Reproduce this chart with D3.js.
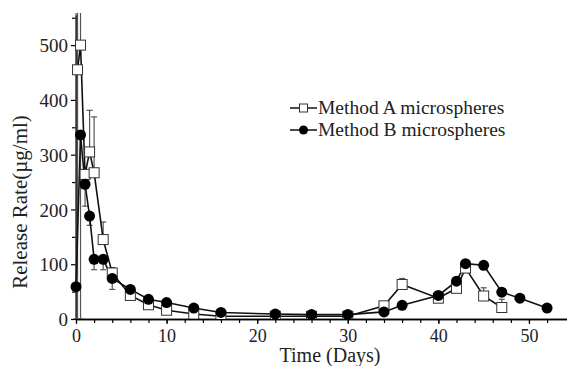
<!DOCTYPE html>
<html>
<head>
<meta charset="utf-8">
<script src="https://cdn.jsdelivr.net/npm/d3@7"></script>
<style>
	body { margin: 0; background: #fff; }
	svg, svg text { font-family: "Liberation Serif", "Times New Roman", Times, "DejaVu Serif", serif; }
</style>
</head>
<body>
<svg id="chart" width="567" height="366"></svg>
<script>
// values
const daysA = [0.17, 0.5, 1, 1.5, 2, 3, 4, 6, 8, 10, 13, 16, 22, 26, 30, 34, 36, 40, 42, 43, 45, 47];
const methodA = [455, 500, 264, 305, 267, 145, 84, 43, 26, 16, 9, 5, 5, 5, 5, 24, 63, 38, 56, 93, 42, 21];
const errAUp = [600, 600, 0, 76, 102, 32, 10, 0, 0, 0, 0, 0, 0, 0, 0, 0, 11, 0, 0, 0, 15, 15];
const errADown = [460, 0, 0, 0, 0, 0, 0, 0, 0, 0, 0, 0, 0, 0, 0, 0, 0, 7, 0, 0, 0, 0];

const daysB = [0, 0.5, 1, 1.5, 2, 3, 4, 6, 8, 10, 13, 16, 22, 26, 30, 34, 36, 40, 42, 43, 45, 47, 49, 52];
const methodB = [59, 336, 246, 188, 109, 109, 74, 54, 36, 30, 20, 12, 9, 8, 8, 13, 25, 43, 69, 101, 98, 49, 38, 20];
const errBUp = [600, 0, 0, 0, 0, 0, 0, 0, 0, 0, 0, 0, 0, 0, 0, 0, 0, 0, 0, 0, 0, 0, 0, 0];
const errBDown = [59, 336, 40, 17, 19, 19, 20, 0, 0, 0, 0, 0, 0, 0, 0, 0, 0, 0, 0, 0, 0, 0, 0, 0];

const xTicks = [0, 10, 20, 30, 40, 50];
const yTicks = [0, 100, 200, 300, 400, 500];
const legendNames = ["Method A microspheres", "Method B microspheres"];

const serif = "'Liberation Serif', 'Times New Roman', Times, 'DejaVu Serif', serif";
const svg = d3.select("#chart");

const xScale = d3.scaleLinear().domain([0, 54.2]).range([76, 567]);
const yScale = d3.scaleLinear().domain([0, 555]).range([319, 15]);

svg.append("defs").append("clipPath")
	.attr("id", "plotClip")
	.append("rect")
	.attr("x", 60).attr("y", 13)
	.attr("width", 507).attr("height", 306);

// axes
let xAxis = d3.axisBottom(xScale).tickValues(xTicks).tickSize(5).tickSizeOuter(0).tickPadding(5);
let xMinor = d3.axisBottom(xScale).tickValues(d3.range(0, 54, 2)).tickSize(4).tickSizeOuter(0).tickFormat("");
let yAxis = d3.axisLeft(yScale).tickValues(yTicks).tickSize(5).tickSizeOuter(0).tickPadding(3);
let yMinor = d3.axisLeft(yScale).tickValues(d3.range(50, 551, 100)).tickSize(4).tickSizeOuter(0).tickFormat("");

function styleAxis(g) {
	g.attr("font-family", serif);
	g.selectAll("path").attr("stroke", "#000").attr("stroke-width", 1.5);
	g.selectAll("line").attr("stroke", "#000").attr("stroke-width", 1.2);
	g.selectAll("text").attr("fill", "#222").attr("font-family", serif);
}

svg.append("g").attr("transform", "translate(0,319)").call(xMinor).call(styleAxis);
svg.append("g").attr("transform", "translate(0,319)").call(xAxis).call(styleAxis)
	.selectAll("text").attr("font-size", "18px");
svg.append("g").attr("transform", "translate(76,0)").call(yMinor).call(styleAxis);
svg.append("g").attr("transform", "translate(76,0)").call(yAxis).call(styleAxis)
	.selectAll("text").attr("font-size", "19px").attr("dy", "0.35em");

// axis titles
svg.append("text")
	.attr("x", 330).attr("y", 362)
	.attr("text-anchor", "middle")
	.attr("font-family", serif)
	.attr("font-size", "20px").attr("fill", "#222")
	.text("Time (Days)");

svg.append("text")
	.attr("transform", "translate(27,202) rotate(-90)")
	.attr("text-anchor", "middle")
	.attr("font-family", serif)
	.attr("font-size", "21px").attr("fill", "#222")
	.text("Release Rate(\u00b5g/ml)");

const plot = svg.append("g").attr("clip-path", "url(#plotClip)");

// error bars
function addErrors(days, vals, up, down, colour) {
	days.forEach((d, i) => {
		let x = xScale(d);
		if (up[i] > 0) {
			let yTop = yScale(vals[i] + up[i]);
			plot.append("line").attr("x1", x).attr("x2", x).attr("y1", yScale(vals[i])).attr("y2", yTop)
				.attr("stroke", colour).attr("stroke-width", 1.2);
			plot.append("line").attr("x1", x - 3).attr("x2", x + 3).attr("y1", yTop).attr("y2", yTop)
				.attr("stroke", colour).attr("stroke-width", 1.2);
		}
		if (down[i] > 0) {
			let yBot = yScale(Math.max(vals[i] - down[i], 0));
			plot.append("line").attr("x1", x).attr("x2", x).attr("y1", yScale(vals[i])).attr("y2", yBot)
				.attr("stroke", colour).attr("stroke-width", 1.2);
			plot.append("line").attr("x1", x - 3).attr("x2", x + 3).attr("y1", yBot).attr("y2", yBot)
				.attr("stroke", colour).attr("stroke-width", 1.2);
		}
	});
}

addErrors(daysA, methodA, errAUp, errADown, "#555");
addErrors(daysB, methodB, errBUp, errBDown, "#555");

// lines
const line = d3.line().x(d => xScale(d[0])).y(d => yScale(d[1]));
const pointsA = daysA.map((d, i) => [d, methodA[i]]);
const pointsB = daysB.map((d, i) => [d, methodB[i]]);

plot.append("path").datum(pointsA)
	.attr("fill", "none").attr("stroke", "#111").attr("stroke-width", 1.6)
	.attr("d", line);
plot.append("path").datum(pointsB)
	.attr("fill", "none").attr("stroke", "#111").attr("stroke-width", 1.6)
	.attr("d", line);

// markers
plot.append("g").selectAll("rect")
	.data(pointsA)
	.enter()
	.append("rect")
	.attr("x", d => xScale(d[0]) - 5)
	.attr("y", d => yScale(d[1]) - 5)
	.attr("width", 10).attr("height", 10)
	.attr("fill", "#fff").attr("stroke", "#333").attr("stroke-width", 1);

plot.append("g").selectAll("circle")
	.data(pointsB)
	.enter()
	.append("circle")
	.attr("cx", d => xScale(d[0]))
	.attr("cy", d => yScale(d[1]))
	.attr("r", 5.5)
	.attr("fill", "#000");

// legend
let legend = svg.append("g").attr("transform", "translate(290,108)");
legendNames.forEach((name, i) => {
	let y = i * 22;
	legend.append("line").attr("x1", 0).attr("x2", 27).attr("y1", y).attr("y2", y)
		.attr("stroke", "#111").attr("stroke-width", 1.5);
	if (i == 0) {
		legend.append("rect").attr("x", 9.5).attr("y", y - 4).attr("width", 8).attr("height", 8)
			.attr("fill", "#fff").attr("stroke", "#333");
	} else {
		legend.append("circle").attr("cx", 13.5).attr("cy", y).attr("r", 4.5).attr("fill", "#000");
	}
	legend.append("text")
		.attr("x", 28).attr("y", y + 6)
		.attr("font-family", serif)
		.attr("font-size", "19.5px").attr("fill", "#222")
		.text(name);
});
</script>
</body>
</html>
